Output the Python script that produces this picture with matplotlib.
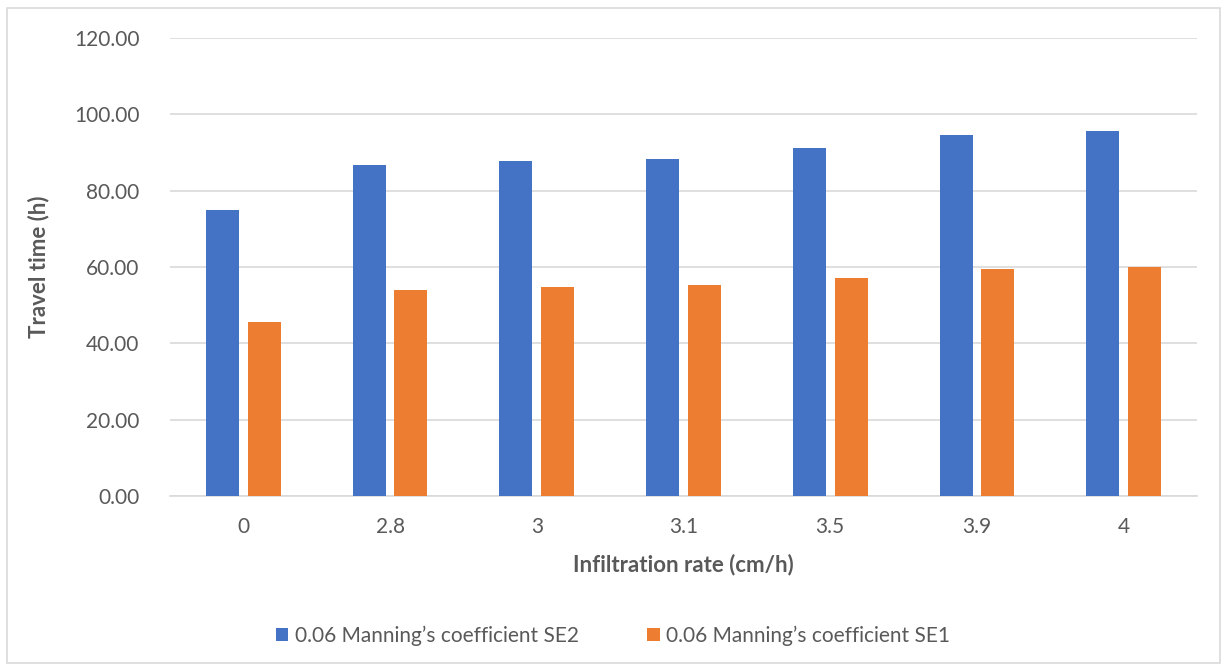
import matplotlib
matplotlib.use("Agg")
import matplotlib.pyplot as plt
from matplotlib.patches import Rectangle
import numpy as np

categories = ["0", "2.8", "3", "3.1", "3.5", "3.9", "4"]
se2 = [75.0, 86.7, 87.9, 88.4, 91.2, 94.6, 95.7]
se1 = [45.7, 54.0, 54.7, 55.2, 57.2, 59.4, 60.1]
series_names = ["0.06 Manning\u2019s coefficient SE2", "0.06 Manning\u2019s coefficient SE1"]
yticks = [0, 20, 40, 60, 80, 100, 120]

plt.rcParams['font.family'] = ['Lato', 'DejaVu Sans']
W, H = 1226, 671
fig = plt.figure(figsize=(W/100, H/100), dpi=100)
ax = fig.add_axes([170/W, 1-496/H, (1197-170)/W, (496-38)/H])

x = np.arange(len(categories))
bw = 0.225
gap = 0.03
ax.bar(x - bw/2 - gap, se2, bw, color='#4472C4', label=series_names[0], zorder=3)
ax.bar(x + bw/2 + gap, se1, bw, color='#ED7D31', label=series_names[1], zorder=3)

ax.set_xlim(-0.5, len(categories)-0.5)
ax.set_ylim(0, 120)
ax.set_yticks(yticks)
ax.set_yticklabels([f"{v:.2f}" for v in yticks])
ax.set_xticks(x)
ax.set_xticklabels(categories)
ax.yaxis.grid(True, color='#d9d9d9', linewidth=1.2, zorder=0)
for s in ['top', 'right', 'left']:
    ax.spines[s].set_visible(False)
ax.spines['bottom'].set_color('#d9d9d9')
ax.spines['bottom'].set_linewidth(1.2)
ax.tick_params(axis='both', length=0, labelsize=15, colors='#595959')
ax.tick_params(axis='y', pad=22)
ax.tick_params(axis='x', pad=15)
ax.set_ylabel("Travel time (h)", fontsize=16, fontweight='bold', color='#595959', labelpad=18)
ax.set_xlabel("Infiltration rate (cm/h)", fontsize=16, fontweight='bold', color='#595959', labelpad=12)

fig.legend(loc='center', bbox_to_anchor=(0.5, 1-636/H), ncol=2, frameon=False,
           fontsize=15, labelcolor='#595959', handlelength=0.6, handleheight=0.6,
           handletextpad=0.3, columnspacing=3.3)

fig.patches.append(Rectangle((7/W, 1-663/H), (1220-7)/W, (663-8)/H, transform=fig.transFigure,
                             fill=False, edgecolor='#d9d9d9', linewidth=1.2))
fig.savefig("out.png", dpi=100, facecolor='white')
